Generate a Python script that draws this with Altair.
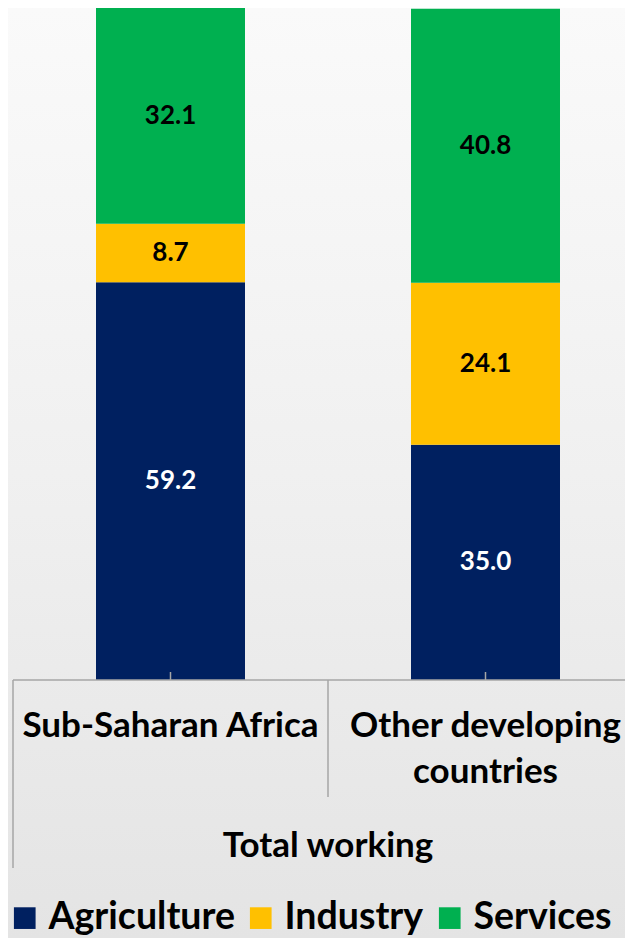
import altair as alt
import pandas as pd

# ---- data ----
regions = ["Sub-Saharan Africa", "Other developing countries"]
region_labels = ["Sub-Saharan Africa", "Other developing\ncountries"]
sectors = ["Agriculture", "Industry", "Services"]
ssa_values = [59.2, 8.7, 32.1]
odc_values = [35.0, 24.1, 40.8]
sector_colors = ["#002060", "#FFC000", "#00B050"]
label_colors = ["white", "black", "black"]
group_title = "Total working"

FONT = "Lato"

rows = []
for reg, vals in zip(regions, [ssa_values, odc_values]):
    for i, (sec, v) in enumerate(zip(sectors, vals)):
        rows.append({"region": reg, "sector": sec, "value": v, "order": i,
                     "lcolor": label_colors[i]})
df = pd.DataFrame(rows)
lab_df = pd.DataFrame({"region": regions, "label": region_labels})
one = pd.DataFrame({"a": [0]})

xenc = alt.X("region:N", sort=regions,
             scale=alt.Scale(range=[0, 630], paddingInner=0.527, paddingOuter=0.2635),
             axis=None)
yscale = alt.Scale(domain=[0, 100], nice=False, zero=True)

bg = alt.Chart(one).mark_rect(
    fill=alt.Gradient(gradient="linear",
                      stops=[alt.GradientStop(color="#fafafa", offset=0),
                             alt.GradientStop(color="#f0f0f0", offset=0.5),
                             alt.GradientStop(color="#e4e4e4", offset=1)],
                      x1=0, x2=0, y1=0, y2=1)
).encode(x=alt.value(-5), x2=alt.value(620), y=alt.value(0), y2=alt.value(930))

bars = alt.Chart(df).mark_bar().encode(
    x=xenc,
    y=alt.Y("value:Q", stack="zero", scale=yscale, axis=None),
    color=alt.Color("sector:N", sort=sectors,
                    scale=alt.Scale(domain=sectors, range=sector_colors),
                    legend=alt.Legend(orient="none", legendX=-7, legendY=891,
                                      direction="horizontal", title=None,
                                      symbolType="square", symbolSize=470,
                                      symbolStrokeWidth=0, symbolOpacity=1,
                                      labelFontSize=37.5, labelFont=FONT,
                                      labelFontWeight="bold", labelColor="black",
                                      labelOffset=5, columnPadding=7,
                                      labelLimit=600, padding=0)),
    order=alt.Order("order:Q"),
)

texts = alt.Chart(df).transform_stack(
    stack="value", groupby=["region"], as_=["v0", "v1"],
    sort=[alt.SortField("order", order="ascending")]
).transform_calculate(
    mid="(datum.v0 + datum.v1) / 2"
).mark_text(font=FONT, fontWeight="bold", fontSize=26, baseline="middle").encode(
    x=xenc,
    y=alt.Y("mid:Q", scale=yscale, axis=None),
    text=alt.Text("value:Q", format=".1f"),
    color=alt.Color("lcolor:N", scale=None),
)

domain_line = alt.Chart(one).mark_rule(color="#a6a6a6", strokeWidth=1.5).encode(
    x=alt.value(0), x2=alt.value(630), y=alt.datum(0, scale=yscale)
)
ticks = alt.Chart(lab_df).mark_rule(color="#a6a6a6", strokeWidth=1.5).encode(
    x=xenc, y=alt.value(664), y2=alt.value(672)
)
sep_outer = alt.Chart(one).mark_rule(color="#a6a6a6", strokeWidth=1.5).encode(
    x=alt.value(0), y=alt.value(672), y2=alt.value(860)
)
sep_mid = alt.Chart(one).mark_rule(color="#a6a6a6", strokeWidth=1.5).encode(
    x=alt.value(315), y=alt.value(672), y2=alt.value(789)
)
cat_labels = alt.Chart(lab_df).mark_text(
    font=FONT, fontWeight="bold", fontSize=35, baseline="alphabetic",
    lineBreak="\n", lineHeight=46, color="black"
).encode(x=xenc, y=alt.value(729), text="label:N")

title_text = alt.Chart(one).transform_calculate(t=f"'{group_title}'").mark_text(
    font=FONT, fontWeight="bold", fontSize=35, baseline="alphabetic", color="black"
).encode(x=alt.value(315), y=alt.value(849), text="t:N")

chart = alt.layer(
    bg, bars, texts, domain_line, ticks, sep_outer, sep_mid, cat_labels, title_text
).properties(
    width=612, height=672,
    padding={"left": 5, "top": 0, "right": 0, "bottom": 258},
    autosize=alt.AutoSizeParams(type="none"),
    background="#eeeeee",
).configure_view(stroke=None)

chart.save("out.html", embed_options={"renderer": "svg", "actions": False})
